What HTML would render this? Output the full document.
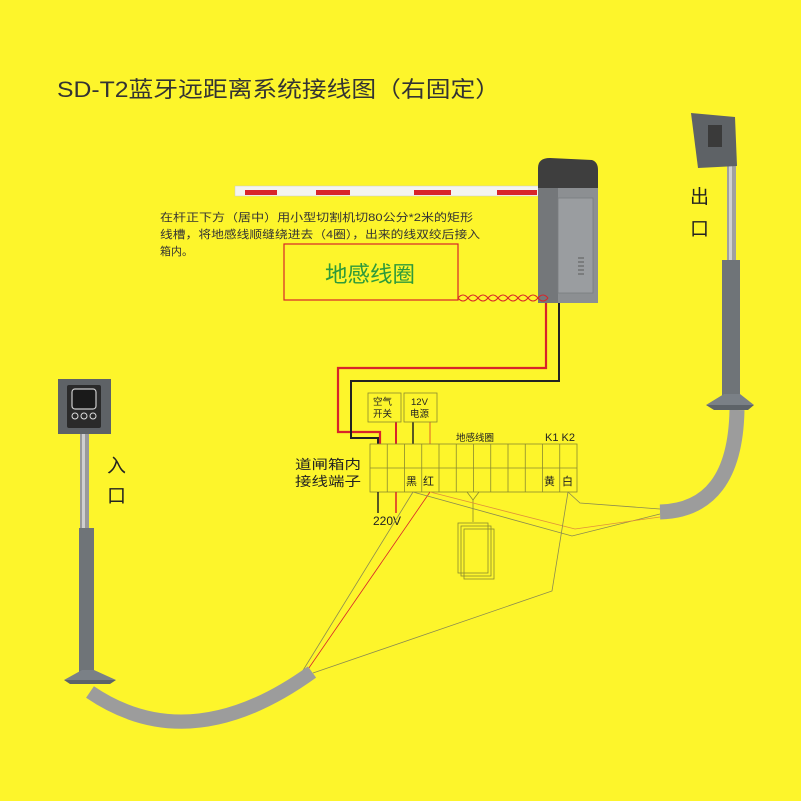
<!DOCTYPE html>
<html><head><meta charset="utf-8"><style>
html,body{margin:0;padding:0;background:#fdf52b}
svg{display:block}
text{font-family:"Liberation Sans","Noto Sans CJK SC",sans-serif;fill:#222}
</style></head><body>
<svg width="801" height="801" viewBox="0 0 801 801" xmlns="http://www.w3.org/2000/svg">
<rect width="801" height="801" fill="#fdf52b"/>
<text x="57" y="97" font-size="22" textLength="443" lengthAdjust="spacingAndGlyphs" style="fill:#333">SD-T2蓝牙远距离系统接线图（右固定）</text>

<!-- barrier arm -->
<rect x="235" y="186" width="310" height="10" fill="#f4f4f0" stroke="#ccc" stroke-width="0.5"/>
<rect x="245" y="190" width="32" height="5" fill="#d8242a"/>
<rect x="316" y="190" width="34" height="5" fill="#d8242a"/>
<rect x="414" y="190" width="37" height="5" fill="#d8242a"/>
<rect x="497" y="190" width="40" height="5" fill="#d8242a"/>
<!-- barrier box -->
<path d="M538 168 Q538 158 550 158 L592 160 Q598 162 598 170 L598 192 L538 192Z" fill="#3e3e3e"/>
<rect x="538" y="188" width="60" height="115" fill="#8c8f92"/>
<rect x="538" y="188" width="20" height="115" fill="#74777a"/>
<rect x="558" y="198" width="35" height="95" fill="#9a9da0" stroke="#7a7d80" stroke-width="0.8"/>
<g stroke="#666" stroke-width="1.2"><line x1="578" y1="258" x2="584" y2="258"/><line x1="578" y1="262" x2="584" y2="262"/><line x1="578" y1="266" x2="584" y2="266"/><line x1="578" y1="270" x2="584" y2="270"/><line x1="578" y1="274" x2="584" y2="274"/></g>

<!-- note -->
<text x="160" y="221" font-size="11" textLength="313" lengthAdjust="spacingAndGlyphs" style="fill:#333">在杆正下方（居中）用小型切割机切80公分*2米的矩形</text>
<text x="160" y="238" font-size="11" textLength="320" lengthAdjust="spacingAndGlyphs" style="fill:#333">线槽，将地感线顺缝绕进去（4圈），出来的线双绞后接入</text>
<text x="160" y="255" font-size="11" style="fill:#333">箱内。</text>

<!-- loop -->
<rect x="284" y="244" width="174" height="56" fill="none" stroke="#d8242a" stroke-width="1.2"/>
<text x="325" y="282" font-size="22" textLength="90" lengthAdjust="spacingAndGlyphs" style="fill:#2e9a3a">地感线圈</text>
<path d="M458 298 q5 -6 10 0 t10 0 t10 0 t10 0 t10 0 t10 0 t10 0 t10 0 t10 0 M458 298 q5 6 10 0 t10 0 t10 0 t10 0 t10 0 t10 0 t10 0 t10 0 t10 0" fill="none" stroke="#d8242a" stroke-width="1"/>

<!-- wires from box -->
<path d="M546 303 V368 H338 V432 H380 V444" fill="none" stroke="#d8242a" stroke-width="2.2"/>
<path d="M559 303 V381 H351 V438 H378 V444" fill="none" stroke="#222" stroke-width="2"/>
<line x1="396" y1="422" x2="396" y2="444" stroke="#d8242a" stroke-width="2"/>
<line x1="413" y1="422" x2="413" y2="444" stroke="#222" stroke-width="1.5"/>
<line x1="430" y1="422" x2="430" y2="444" stroke="#e8902a" stroke-width="1.5"/>

<!-- labels boxes -->
<rect x="368" y="393" width="33" height="29" fill="none" stroke="#8a8a30" stroke-width="0.8"/>
<text x="373" y="405" font-size="9.5">空气</text><text x="373" y="417" font-size="9.5">开关</text>
<rect x="404" y="393" width="33" height="29" fill="none" stroke="#8a8a30" stroke-width="0.8"/>
<text x="411" y="405" font-size="9.5">12V</text><text x="410" y="417" font-size="9.5">电源</text>
<text x="456" y="441" font-size="9.5">地感线圈</text>
<text x="545" y="441" font-size="11">K1 K2</text>

<!-- terminal block -->
<g fill="none" stroke="#8a8a30" stroke-width="0.8">
<rect x="370" y="444" width="207" height="48"/>
<line x1="370" y1="468" x2="577" y2="468"/>
<line x1="387.25" y1="444" x2="387.25" y2="492"/><line x1="404.5" y1="444" x2="404.5" y2="492"/><line x1="421.75" y1="444" x2="421.75" y2="492"/><line x1="439" y1="444" x2="439" y2="492"/><line x1="456.25" y1="444" x2="456.25" y2="492"/><line x1="473.5" y1="444" x2="473.5" y2="492"/><line x1="490.75" y1="444" x2="490.75" y2="492"/><line x1="508" y1="444" x2="508" y2="492"/><line x1="525.25" y1="444" x2="525.25" y2="492"/><line x1="542.5" y1="444" x2="542.5" y2="492"/><line x1="559.75" y1="444" x2="559.75" y2="492"/>
</g>
<text x="406" y="485" font-size="11">黑</text><text x="423" y="485" font-size="11">红</text>
<text x="544" y="485" font-size="11">黄</text><text x="562" y="485" font-size="11">白</text>
<text x="295" y="469" font-size="13" textLength="66" lengthAdjust="spacingAndGlyphs">道闸箱内</text>
<text x="295" y="486" font-size="13" textLength="66" lengthAdjust="spacingAndGlyphs">接线端子</text>
<line x1="378" y1="492" x2="378" y2="513" stroke="#222" stroke-width="1.5"/>
<line x1="396" y1="492" x2="396" y2="513" stroke="#d8242a" stroke-width="1.5"/>
<text x="373" y="525" font-size="12">220V</text>

<!-- small loop detector -->
<g fill="none" stroke="#8a8a30" stroke-width="0.8">
<path d="M467 492 L473 500 L479 492"/><line x1="473" y1="500" x2="473" y2="522"/>
<rect x="458" y="523" width="30" height="50"/><rect x="461" y="526" width="30" height="50"/><rect x="464" y="529" width="30" height="50"/>
</g>

<!-- thin wires to tubes -->
<g fill="none" stroke-width="0.8">
<path d="M413 492 L302 672" stroke="#8a8a50"/>
<path d="M430 492 L302 678" stroke="#d8242a"/>
<path d="M413 492 L572 536 L660 514" stroke="#8a8a50"/>
<path d="M430 492 L575 529 L660 517" stroke="#e0903a"/>
<path d="M568 492 L580 503 L660 509" stroke="#8a8a50"/>
<path d="M568 492 L552 591 L313 673" stroke="#8a8a50"/>
</g>

<!-- left tube -->
<path d="M90 692 Q190 760 312 672" fill="none" stroke="#9c9c9c" stroke-width="14"/>
<!-- right tube -->
<path d="M737 410 Q735 510 660 512" fill="none" stroke="#9c9c9c" stroke-width="15"/>

<!-- entry pillar -->
<rect x="80" y="434" width="9" height="96" fill="#9a9a9a"/>
<rect x="82" y="434" width="3" height="96" fill="#cfcfcf"/>
<rect x="79" y="528" width="15" height="146" fill="#6f7478"/>
<path d="M82 670 L94 670 L116 680 L64 680Z" fill="#7a8086"/>
<path d="M64 680 L116 680 L110 684 L70 684Z" fill="#5d6368"/>
<rect x="58" y="379" width="53" height="55" fill="#5e6266"/>
<rect x="67" y="385" width="34" height="43" fill="#2a2a2a" rx="2"/>
<rect x="72" y="389" width="24" height="20" fill="#1a1a1a" stroke="#ccc" stroke-width="1.2" rx="3"/>
<circle cx="75" cy="416" r="3" fill="none" stroke="#ddd"/><circle cx="84" cy="416" r="3" fill="none" stroke="#ddd"/><circle cx="93" cy="416" r="3" fill="none" stroke="#ddd"/>
<text x="107" y="472" font-size="19">入</text>
<text x="107" y="502" font-size="19">口</text>

<!-- exit pillar -->
<rect x="727" y="155" width="9" height="105" fill="#a0a0a0"/>
<rect x="729" y="155" width="3" height="105" fill="#d0d0d0"/>
<rect x="722" y="260" width="18" height="140" fill="#6f7478"/>
<path d="M724 394 L740 394 L754 405 L706 405Z" fill="#7a8086"/>
<path d="M706 405 L754 405 L748 410 L714 410Z" fill="#5d6368"/>
<path d="M691 113 L735 117 L737 166 L698 168Z" fill="#5e6266"/>
<rect x="708" y="125" width="14" height="22" fill="#3a3a3a"/>
<text x="690" y="203" font-size="19">出</text>
<text x="690" y="235" font-size="19">口</text>
</svg>
</body></html>
